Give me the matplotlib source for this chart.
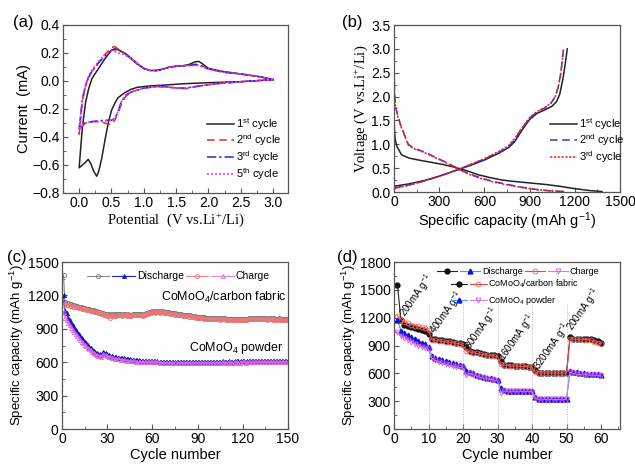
"""
CoMoO4 electrode: CV, charge/discharge, cycling and rate performance.
"""

import matplotlib
matplotlib.use("Agg")
import matplotlib.pyplot as plt
from matplotlib.legend_handler import HandlerTuple
from matplotlib.ticker import MultipleLocator, AutoMinorLocator

plt.rcParams["font.family"] = ["Liberation Sans", "DejaVu Sans"]
plt.rcParams["mathtext.default"] = "regular"
plt.rcParams["font.size"] = 9.5

# ---------------- (a) cyclic voltammetry ----------------
cv1_v = [3.0, 2.5, 2.0, 1.6, 1.3, 1.1, 0.9, 0.8, 0.7, 0.6, 0.55, 0.5, 0.45,
         0.4, 0.35, 0.3, 0.27, 0.22, 0.18, 0.14, 0.1, 0.05, 0.0,
         0.02, 0.05, 0.1, 0.15, 0.2, 0.3, 0.4, 0.5, 0.55, 0.6, 0.7, 0.8,
         0.9, 1.0, 1.1, 1.2, 1.3, 1.4, 1.5, 1.6, 1.7, 1.8, 1.85, 1.9, 2.0,
         2.2, 2.5, 2.8, 3.0]
cv1_i = [0.01, -0.005, -0.012, -0.02, -0.03, -0.035, -0.045, -0.06, -0.085,
         -0.12, -0.16, -0.21, -0.3, -0.42, -0.55, -0.65, -0.68, -0.64, -0.59,
         -0.56, -0.58, -0.6, -0.62,
         -0.5, -0.33, -0.15, -0.05, 0.02, 0.09, 0.16, 0.22, 0.23, 0.225,
         0.2, 0.16, 0.12, 0.09, 0.075, 0.075, 0.085, 0.1, 0.105, 0.108,
         0.118, 0.138, 0.14, 0.125, 0.09, 0.07, 0.05, 0.03, 0.01]

cv2_v = [3.0, 2.5, 2.1, 1.8, 1.65, 1.5, 1.3, 1.2, 1.0, 0.9, 0.8, 0.72, 0.65,
         0.6, 0.55, 0.5, 0.45, 0.4, 0.3, 0.2, 0.1, 0.05, 0.0,
         0.02, 0.05, 0.1, 0.15, 0.2, 0.3, 0.4, 0.5, 0.55, 0.6, 0.7, 0.8,
         0.9, 1.0, 1.1, 1.2, 1.3, 1.4, 1.5, 1.6, 1.7, 1.8, 1.85, 1.9, 2.0,
         2.2, 2.5, 2.8, 3.0]
cv2_i = [0.01, -0.005, -0.02, -0.04, -0.055, -0.05, -0.04, -0.04, -0.05,
         -0.065, -0.08, -0.11, -0.17, -0.23, -0.28, -0.31, -0.31, -0.3,
         -0.29, -0.29, -0.3, -0.32, -0.38,
         -0.28, -0.14, -0.03, 0.03, 0.07, 0.13, 0.19, 0.24, 0.245, 0.23,
         0.2, 0.165, 0.125, 0.09, 0.075, 0.075, 0.085, 0.1, 0.105, 0.108,
         0.112, 0.12, 0.12, 0.11, 0.085, 0.065, 0.05, 0.03, 0.01]

cv3_v = cv2_v
cv3_i = [0.01, -0.005, -0.02, -0.04, -0.05, -0.05, -0.04, -0.04, -0.05,
         -0.065, -0.08, -0.1, -0.15, -0.22, -0.27, -0.28, -0.28, -0.28,
         -0.285, -0.29, -0.3, -0.31, -0.34,
         -0.26, -0.13, -0.03, 0.03, 0.07, 0.13, 0.18, 0.22, 0.225, 0.22,
         0.2, 0.165, 0.125, 0.09, 0.075, 0.075, 0.085, 0.1, 0.105, 0.108,
         0.112, 0.115, 0.115, 0.105, 0.085, 0.065, 0.05, 0.03, 0.01]

cv5_v = cv2_v
cv5_i = [0.01, -0.005, -0.02, -0.04, -0.05, -0.05, -0.04, -0.04, -0.05,
         -0.065, -0.08, -0.1, -0.15, -0.22, -0.27, -0.28, -0.285, -0.285,
         -0.29, -0.29, -0.3, -0.31, -0.35,
         -0.25, -0.12, -0.02, 0.04, 0.08, 0.14, 0.19, 0.215, 0.21, 0.2,
         0.19, 0.16, 0.12, 0.09, 0.075, 0.075, 0.085, 0.1, 0.105, 0.108,
         0.11, 0.11, 0.11, 0.1, 0.085, 0.065, 0.05, 0.03, 0.01]

# ---------------- (b) charge / discharge profiles ----------------
dis1_q = [0, 3, 8, 20, 50, 100, 180, 250, 320, 400, 480, 560, 640, 720, 800,
          900, 1000, 1100, 1200, 1300, 1380]
dis1_v = [1.55, 1.3, 1.1, 0.95, 0.78, 0.71, 0.66, 0.62, 0.58, 0.52, 0.45, 0.36,
          0.3, 0.25, 0.22, 0.19, 0.16, 0.12, 0.07, 0.03, 0.01]
chg1_q = [0, 100, 200, 300, 400, 500, 600, 700, 760, 800, 850, 900, 950,
          1000, 1050, 1080, 1100, 1120, 1135, 1150]
chg1_v = [0.12, 0.17, 0.24, 0.33, 0.44, 0.55, 0.67, 0.82, 0.93, 1.05, 1.3,
          1.52, 1.65, 1.72, 1.8, 1.9, 2.05, 2.35, 2.65, 3.0]
dis2_q = [0, 3, 10, 25, 45, 70, 95, 130, 200, 280, 360, 430, 500, 580, 660,
          750, 850, 950, 1050, 1130]
dis2_v = [2.8, 2.1, 1.8, 1.6, 1.4, 1.2, 1.0, 0.92, 0.84, 0.72, 0.6, 0.48,
          0.38, 0.29, 0.22, 0.16, 0.1, 0.05, 0.02, 0.01]
chg2_q = [0, 100, 200, 300, 400, 500, 600, 700, 760, 800, 850, 900, 950,
          1000, 1040, 1070, 1090, 1105, 1115, 1125]
chg2_v = [0.08, 0.15, 0.23, 0.33, 0.44, 0.56, 0.69, 0.84, 0.95, 1.1, 1.33,
          1.55, 1.68, 1.76, 1.85, 2.0, 2.2, 2.45, 2.7, 3.0]
dis3_q = dis2_q
dis3_v = [2.8, 2.1, 1.8, 1.58, 1.38, 1.18, 0.98, 0.91, 0.83, 0.71, 0.59, 0.47,
          0.37, 0.28, 0.21, 0.15, 0.09, 0.05, 0.02, 0.01]
chg3_q = chg2_q
chg3_v = [0.07, 0.14, 0.23, 0.33, 0.44, 0.57, 0.7, 0.86, 0.97, 1.12, 1.35,
          1.56, 1.69, 1.77, 1.86, 2.0, 2.2, 2.45, 2.7, 3.0]

# ---------------- (c) cycling, 150 cycles ----------------
cyc_c = list(range(1, 151))
cf_dis = [1380, 1140, 1135, 1130, 1125, 1120, 1118, 1112, 1108, 1105,
          1100, 1095, 1092, 1090, 1085, 1082, 1078, 1075, 1070, 1068,
          1065, 1060, 1058, 1055, 1050, 1045, 1040, 1035, 1030, 1030,
          1025, 1030, 1028, 1032, 1030, 1025, 1030, 1035, 1030, 1028,
          1035, 1030, 1025, 1030, 1028, 1025, 1030, 1032, 1030, 1035,
          1030, 1035, 1030, 1028, 1035, 1040, 1045, 1050, 1055, 1060,
          1058, 1055, 1060, 1058, 1055, 1058, 1060, 1055, 1052, 1050,
          1048, 1045, 1042, 1040, 1038, 1035, 1035, 1030, 1030, 1028,
          1025, 1025, 1022, 1020, 1020, 1018, 1015, 1012, 1010, 1010,
          1008, 1005, 1005, 1002, 1000, 1000, 1000, 998, 998, 995,
          998, 1000, 995, 995, 992, 995, 998, 995, 990, 992,
          990, 988, 990, 992, 990, 988, 985, 988, 990, 985,
          988, 990, 992, 995, 998, 995, 1000, 998, 995, 1000,
          998, 1000, 995, 998, 995, 992, 995, 998, 995, 992,
          995, 990, 992, 995, 990, 992, 988, 990, 992, 990]
cf_chg = [1110, 1120, 1115, 1112, 1108, 1105, 1100, 1098, 1095, 1092,
          1090, 1085, 1082, 1078, 1075, 1070, 1068, 1065, 1060, 1058,
          1055, 1050, 1048, 1045, 1040, 1035, 1030, 1025, 1020, 1018,
          1015, 1000, 1015, 1020, 1018, 1015, 1020, 1025, 1020, 1018,
          1025, 1020, 1015, 1020, 1018, 1015, 1020, 1022, 1020, 1025,
          1020, 1025, 1020, 1018, 1025, 1030, 1035, 1040, 1045, 1050,
          1048, 1045, 1050, 1048, 1045, 1048, 1050, 1045, 1042, 1040,
          1038, 1035, 1032, 1030, 1028, 1025, 1025, 1020, 1020, 1018,
          1015, 1015, 1012, 1010, 1010, 1008, 1005, 1002, 1000, 1000,
          998, 995, 995, 992, 990, 990, 990, 988, 988, 985,
          988, 990, 985, 985, 982, 985, 988, 985, 980, 982,
          980, 978, 980, 982, 980, 978, 975, 978, 980, 975,
          978, 980, 982, 985, 988, 985, 990, 988, 985, 990,
          988, 990, 985, 988, 985, 982, 985, 988, 985, 982,
          985, 980, 982, 985, 980, 982, 978, 980, 982, 980]
pw_dis = [1200, 1060, 1040, 1000, 975, 950, 930, 910, 890, 870,
          850, 835, 815, 800, 785, 770, 755, 740, 728, 715,
          705, 695, 685, 678, 670, 668, 690, 685, 680, 672,
          665, 660, 655, 650, 648, 645, 642, 640, 638, 636,
          634, 632, 630, 628, 626, 624, 622, 620, 618, 617,
          616, 615, 614, 613, 612, 611, 610, 610, 609, 608,
          608, 607, 607, 606, 606, 605, 605, 605, 604, 604,
          604, 603, 603, 604, 603, 603, 602, 603, 604, 603,
          603, 602, 603, 604, 603, 602, 603, 604, 605, 604,
          603, 604, 605, 604, 603, 604, 605, 606, 605, 604,
          605, 606, 605, 604, 605, 606, 607, 606, 605, 606,
          607, 606, 605, 606, 607, 608, 607, 606, 607, 608,
          607, 606, 607, 608, 609, 608, 607, 608, 609, 608,
          609, 610, 609, 608, 609, 610, 611, 610, 609, 610,
          611, 610, 611, 612, 611, 610, 611, 612, 611, 612]
pw_chg = [1050, 1000, 975, 950, 930, 910, 890, 870, 850, 835,
          815, 800, 785, 770, 755, 742, 730, 718, 706, 695,
          685, 676, 668, 660, 655, 650, 672, 668, 662, 655,
          650, 645, 640, 636, 633, 630, 627, 625, 623, 621,
          619, 617, 615, 613, 611, 610, 608, 607, 606, 605,
          604, 603, 602, 602, 601, 601, 600, 600, 599, 599,
          599, 598, 598, 598, 597, 597, 597, 596, 596, 596,
          596, 595, 595, 595, 595, 594, 595, 595, 596, 595,
          595, 594, 595, 596, 595, 594, 595, 596, 596, 595,
          595, 596, 596, 595, 595, 596, 597, 596, 596, 595,
          596, 597, 596, 596, 597, 597, 598, 597, 596, 597,
          598, 597, 596, 597, 598, 598, 597, 597, 598, 599,
          598, 597, 598, 599, 599, 598, 598, 599, 600, 599,
          600, 600, 599, 599, 600, 601, 600, 600, 600, 601,
          601, 600, 601, 601, 600, 600, 601, 602, 601, 601]

# ---------------- (d) rate performance, 60 cycles ----------------
cyc_d = list(range(1, 61))
rcf_dis = [1550, 1180, 1120, 1110, 1100, 1090, 1075, 1065, 1060, 1020,
           970, 965, 960, 955, 950, 945, 940, 930, 925, 915,
           880, 845, 835, 825, 815, 808, 802, 798, 793, 788,
           730, 695, 690, 685, 682, 680, 677, 675, 672, 668,
           632, 608, 607, 606, 606, 605, 605, 605, 604, 604,
           990, 972, 970, 970, 968, 966, 972, 955, 948, 932]
rcf_chg = [1220, 1180, 1155, 1140, 1125, 1115, 1105, 1095, 1090, 1065,
           960, 955, 950, 945, 940, 935, 930, 922, 918, 905,
           840, 830, 822, 815, 808, 800, 795, 790, 786, 780,
           700, 688, 684, 680, 678, 676, 674, 672, 670, 665,
           610, 605, 604, 604, 603, 603, 603, 602, 602, 602,
           970, 968, 966, 965, 964, 962, 960, 940, 930, 920]
rpw_dis = [1180, 1060, 1035, 1010, 990, 970, 950, 930, 915, 880,
           790, 770, 755, 740, 728, 718, 708, 698, 688, 680,
           630, 615, 600, 585, 570, 560, 552, 545, 538, 530,
           440, 415, 412, 412, 410, 410, 410, 409, 408, 405,
           340, 326, 325, 325, 325, 325, 324, 324, 324, 323,
           630, 618, 610, 603, 600, 598, 596, 595, 593, 582]
rpw_chg = [1050, 1000, 980, 960, 940, 920, 900, 885, 870, 860,
           760, 740, 725, 710, 700, 690, 680, 672, 665, 658,
           580, 600, 585, 570, 558, 548, 540, 533, 526, 520,
           390, 408, 408, 407, 407, 406, 406, 405, 405, 404,
           330, 320, 320, 320, 320, 320, 319, 319, 319, 319,
           612, 600, 592, 588, 585, 583, 581, 580, 578, 572]
rate_cycles = [10, 20, 30, 40, 50]
rate_labels = ["200mA g$^{-1}$", "400mA g$^{-1}$", "800mA g$^{-1}$",
               "1600mA g$^{-1}$", "3200mA g$^{-1}$", "200mA g$^{-1}$"]
rate_x = [3.4, 12.1, 22.3, 32.0, 42.1, 51.8]
rate_y = [1200, 1020, 840, 730, 625, 1045]

FRAME = "#555555"
SERIF = ["Liberation Serif", "DejaVu Serif"]


def style_axes(ax):
    for s in ax.spines.values():
        s.set_color(FRAME)
        s.set_linewidth(0.9)
    ax.tick_params(which="both", direction="in", color=FRAME, top=False,
                   right=False, labelsize=10, pad=2.5)
    ax.tick_params(which="major", length=3.5)
    ax.tick_params(which="minor", length=2)
    ax.xaxis.set_minor_locator(AutoMinorLocator(2))
    ax.yaxis.set_minor_locator(AutoMinorLocator(2))


def main():
    fig = plt.figure(figsize=(6.35, 4.65), dpi=100)

    # (a)
    ax = fig.add_axes([63 / 635, 1 - 193 / 465, 225 / 635, 168 / 465])
    ax.plot(cv1_v, cv1_i, color="#222222", lw=1.1, label="1$^{st}$ cycle")
    ax.plot(cv2_v, cv2_i, color="#e8272a", lw=1.1, ls=(0, (5, 3)),
            label="2$^{nd}$ cycle")
    ax.plot(cv3_v, cv3_i, color="#2424d8", lw=1.1, ls=(0, (6, 2, 1.5, 2)),
            label="3$^{rd}$ cycle")
    ax.plot(cv5_v, cv5_i, color="#ee33ee", lw=1.2, ls=(0, (1.2, 1.2)),
            label="5$^{th}$ cycle")
    ax.set_xlim(-0.25, 3.23)
    ax.set_ylim(-0.8, 0.4)
    ax.xaxis.set_major_locator(MultipleLocator(0.5))
    ax.yaxis.set_major_locator(MultipleLocator(0.2))
    style_axes(ax)
    ax.set_xlabel("Potential  (V vs.Li$^{+}$/Li)", family=SERIF, fontsize=10.5,
                  labelpad=1)
    ax.set_ylabel("Current  (mA)", fontsize=10.5, labelpad=1)
    ax.legend(loc="upper left", bbox_to_anchor=(0.64, 0.46), frameon=False,
              fontsize=8, handlelength=2.4, labelspacing=0.08,
              handletextpad=0.25, borderpad=0, borderaxespad=0)
    fig.text(13 / 635, 1 - 22 / 465, "(a)", fontsize=12, va="center")

    # (b)
    ax = fig.add_axes([394 / 635, 1 - 192 / 465, 226 / 635, 167 / 465])
    ax.plot(dis1_q, dis1_v, color="#222222", lw=1.1, label="1$^{st}$ cycle")
    ax.plot(chg1_q, chg1_v, color="#222222", lw=1.1)
    ax.plot(dis2_q, dis2_v, color="#3333dd", lw=1.1, ls=(0, (5, 3)),
            label="2$^{nd}$ cycle")
    ax.plot(chg2_q, chg2_v, color="#3333dd", lw=1.1, ls=(0, (5, 3)))
    ax.plot(dis3_q, dis3_v, color="#ee2222", lw=1.1, ls=(0, (1.5, 1)),
            label="3$^{rd}$ cycle")
    ax.plot(chg3_q, chg3_v, color="#ee2222", lw=1.1, ls=(0, (1.5, 1)))
    ax.set_xlim(0, 1500)
    ax.set_ylim(0, 3.5)
    ax.xaxis.set_major_locator(MultipleLocator(300))
    ax.yaxis.set_major_locator(MultipleLocator(0.5))
    style_axes(ax)
    ax.set_xlabel("Specific capacity (mAh g$^{-1}$)", fontsize=10.5,
                  labelpad=1)
    ax.set_ylabel("Voltage (V vs.Li$^{+}$/Li)", family=SERIF, fontsize=10.5,
                  labelpad=1)
    ax.legend(loc="upper left", bbox_to_anchor=(0.69, 0.455), frameon=False,
              fontsize=8, handlelength=2.4, labelspacing=0.05,
              handletextpad=0.25, borderpad=0, borderaxespad=0)
    fig.text(342 / 635, 1 - 22 / 465, "(b)", fontsize=12, va="center")

    # (c)
    ax = fig.add_axes([62 / 635, 1 - 429 / 465, 226 / 635, 167 / 465])
    l1, = ax.plot(cyc_c, cf_dis, color="#8a8a8a", lw=0.8, marker="o", ms=3,
                  mfc="none", mec="#777777", mew=0.6)
    l2, = ax.plot(cyc_c, pw_dis, color="#2222cc", lw=0.8, marker="^", ms=3,
                  mfc="#1111cc", mec="#1111cc", mew=0.5)
    l3, = ax.plot(cyc_c, cf_chg, color="#ee8888", lw=0.8, marker="o", ms=3,
                  mfc="none", mec="#ee7777", mew=0.6)
    l4, = ax.plot(cyc_c, pw_chg, color="#cc88ee", lw=0.8, marker="^", ms=3,
                  mfc="none", mec="#dd66dd", mew=0.6)
    ax.set_xlim(0, 150)
    ax.set_ylim(0, 1500)
    ax.xaxis.set_major_locator(MultipleLocator(30))
    ax.yaxis.set_major_locator(MultipleLocator(300))
    style_axes(ax)
    ax.set_xlabel("Cycle number", fontsize=10.5, labelpad=1)
    ax.set_ylabel("Specific capacity (mAh g$^{-1}$)", fontsize=9.5,
                  labelpad=1)
    ax.text(149, 1110, "CoMoO$_4$/carbon fabric", ha="right", va="bottom",
            fontsize=9)
    ax.text(147, 660, "CoMoO$_4$ powder", ha="right", va="bottom",
            fontsize=9)
    ax.legend([(l1, l2), (l3, l4)], ["Discharge", "Charge"],
              handler_map={tuple: HandlerTuple(ndivide=None, pad=0.3)},
              loc="upper left", bbox_to_anchor=(0.11, 0.945), ncol=2,
              frameon=False, fontsize=7.5, handlelength=4.6,
              columnspacing=0.2, handletextpad=0.2, borderpad=0,
              borderaxespad=0)
    fig.text(7 / 635, 1 - 257 / 465, "(c)", fontsize=12, va="center")

    # (d)
    ax = fig.add_axes([394 / 635, 1 - 429 / 465, 226 / 635, 167 / 465])
    ax.vlines(rate_cycles, 0, 1350, colors="#bbbbbb", lw=0.7,
              linestyles=(0, (1, 1.5)))
    m1, = ax.plot(cyc_d, rcf_dis, color="#222222", lw=0.8, marker="o", ms=3.5,
                  mfc="#111111", mec="#111111")
    m3, = ax.plot(cyc_d, rcf_chg, color="#ee4444", lw=0.8, marker="o", ms=3.5,
                  mfc="none", mec="#ee6666", mew=0.6)
    m2, = ax.plot(cyc_d, rpw_dis, color="#33aadd", lw=0.8, marker="^", ms=3.5,
                  mfc="#1111dd", mec="#1111dd")
    m4, = ax.plot(cyc_d, rpw_chg, color="#bb88ee", lw=0.8, marker="v", ms=3.5,
                  mfc="none", mec="#dd55dd", mew=0.6)
    for x, y, s in zip(rate_x, rate_y, rate_labels):
        ax.text(x, y, s, rotation=55, rotation_mode="anchor", ha="left",
                va="baseline", fontsize=7)
    ax.set_xlim(0, 65.5)
    ax.set_ylim(0, 1800)
    ax.xaxis.set_major_locator(MultipleLocator(10))
    ax.yaxis.set_major_locator(MultipleLocator(300))
    style_axes(ax)
    ax.set_xlabel("Cycle number", fontsize=10.5, labelpad=1)
    ax.set_ylabel("Specific capacity (mAh g$^{-1}$)", fontsize=9.5,
                  labelpad=1)
    hm = {tuple: HandlerTuple(ndivide=None, pad=0.3)}
    leg1 = ax.legend([(m1, m2), (m3, m4)], ["Discharge", "Charge"],
                     handler_map=hm, loc="upper left",
                     bbox_to_anchor=(0.19, 0.97), ncol=2, frameon=False,
                     fontsize=6.5, handlelength=4.8, columnspacing=0.2,
                     handletextpad=0.2, borderpad=0, borderaxespad=0)
    ax.add_artist(leg1)
    ax.legend([(m1, m3), (m2, m4)],
              ["CoMoO$_4$/carbon fabric", "CoMoO$_4$ powder"],
              handler_map=hm, loc="upper left", bbox_to_anchor=(0.25, 0.905),
              frameon=False, fontsize=6.5, handlelength=4.0,
              labelspacing=0.45, handletextpad=0.2, borderpad=0,
              borderaxespad=0)
    fig.text(337 / 635, 1 - 257 / 465, "(d)", fontsize=12, va="center")

    fig.savefig("out.png", dpi=100)


if __name__ == "__main__":
    main()
